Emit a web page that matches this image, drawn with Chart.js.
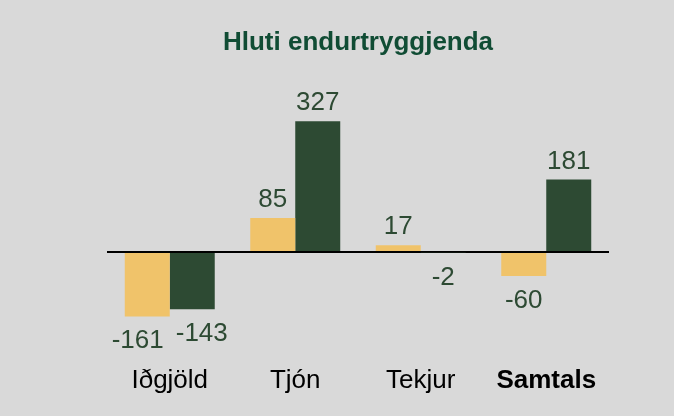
<!DOCTYPE html>
<html>
<head>
<meta charset="utf-8">
<script src="https://cdn.jsdelivr.net/npm/chart.js@4.4.1/dist/chart.umd.min.js"></script>
<style>
  html, body { margin: 0; padding: 0; background: #d9d9d9; }
  canvas { display: block; }
</style>
</head>
<body>
<canvas id="c" width="674" height="416"></canvas>
<script>
const categories = ['Iðgjöld', 'Tjón', 'Tekjur', 'Samtals'];
const seriesYellow = [-161, 85, 17, -60];
const seriesGreen = [-143, 327, -2, 181];
const chartTitle = 'Hluti endurtryggjenda';

const FONT = "'Liberation Sans', Arial, Helvetica, sans-serif";
Chart.defaults.font.family = FONT;

const labelPlugin = {
  id: 'barLabels',
  afterDatasetsDraw(chart) {
    const ctx = chart.ctx;
    const size = 26;
    ctx.save();
    ctx.font = size + 'px ' + FONT;
    ctx.fillStyle = '#2d4a33';
    ctx.textAlign = 'center';
    ctx.textBaseline = 'alphabetic';
    const n = chart.data.labels.length;
    for (let i = 0; i < n; i++) {
      const items = [];
      chart.data.datasets.forEach((ds, d) => {
        const el = chart.getDatasetMeta(d).data[i];
        const v = ds.data[i];
        const txt = String(v);
        const w = ctx.measureText(txt).width;
        const y = v >= 0 ? el.y - 11 : el.y + 32;
        items.push({ x: el.x, y, txt, w });
      });
      for (let k = 0; k + 1 < items.length; k++) {
        const a = items[k], b = items[k + 1];
        if (Math.abs(a.y - b.y) < size) {
          const need = (a.w + b.w) / 2 + 12;
          const dist = b.x - a.x;
          if (dist < need) {
            const s = (need - dist) / 2;
            a.x -= s; b.x += s;
          }
        }
      }
      items.forEach(it => ctx.fillText(it.txt, it.x, it.y));
    }
    ctx.restore();
  }
};

new Chart(document.getElementById('c'), {
  type: 'bar',
  data: {
    labels: categories,
    datasets: [
      { data: seriesYellow, backgroundColor: '#f0c36a' },
      { data: seriesGreen, backgroundColor: '#2d4a33' }
    ]
  },
  options: {
    responsive: false,
    animation: false,
    devicePixelRatio: 1,
    layout: { padding: { top: 20, left: 107, right: 65, bottom: 6 } },
    datasets: { bar: { barPercentage: 1, categoryPercentage: 0.717 } },
    plugins: {
      legend: { display: false },
      tooltip: { enabled: false },
      title: {
        display: true,
        text: chartTitle,
        color: '#104c34',
        font: { size: 26, weight: 'bold', family: FONT },
        padding: { top: 7, bottom: 53.8 }
      }
    },
    scales: {
      x: {
        grid: { display: false, drawTicks: false },
        border: { display: false },
        ticks: {
          color: '#000',
          padding: 13.4,
          font: (c) => ({ size: 26, family: FONT, weight: c.index === 3 ? 'bold' : 'normal' })
        }
      },
      y: {
        min: -250,
        max: 350,
        z: 1,
        border: { display: false },
        ticks: { display: false, stepSize: 50 },
        grid: {
          drawTicks: false,
          lineWidth: 2,
          color: (c) => (c.tick && c.tick.value === 0 ? '#000' : 'rgba(0,0,0,0)')
        }
      }
    }
  },
  plugins: [labelPlugin]
});
</script>
</body>
</html>
